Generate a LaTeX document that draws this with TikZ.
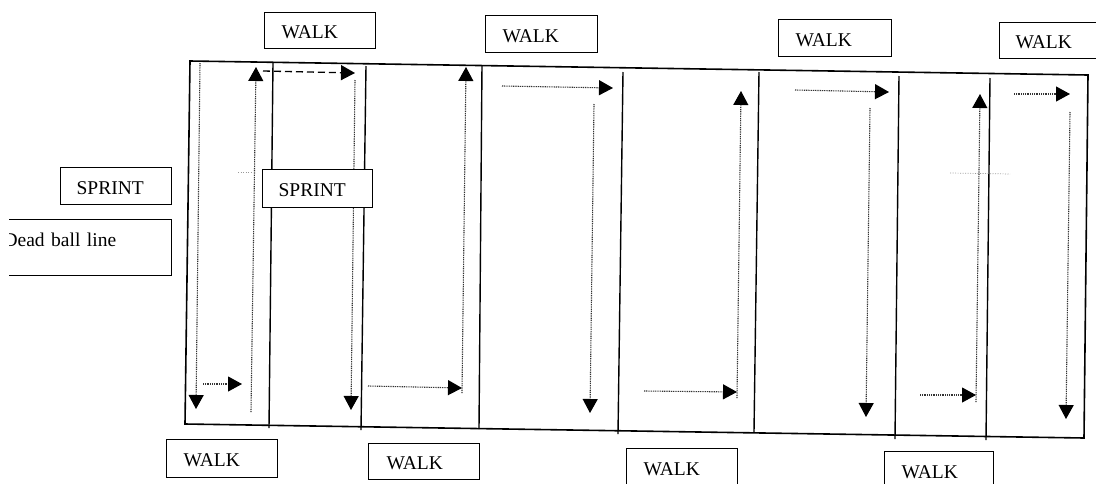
\documentclass[tikz,border=0pt]{standalone}
\usepackage{fontspec}
\setmainfont{Liberation Serif}
\usetikzlibrary{arrows.meta}
\newcommand{\lblfont}{\fontsize{19.5}{23}\selectfont}
\tikzset{
  lbl/.style={draw, fill=white, line width=1.2pt, anchor=north west, align=left,
    inner xsep=17pt, inner ysep=0pt, text height=16pt, text depth=0pt, font=\lblfont},
  edge/.style={line width=1.6pt, line join=miter},
  divider/.style={line width=1.4pt},
  run/.style={line width=1.1pt, black!80, dash pattern=on 1pt off 0.8pt,
    -{Triangle[length=14pt,width=15pt,color=black]}},
  jog/.style={line width=1.3pt, dash pattern=on 7pt off 4pt,
    -{Triangle[length=14pt,width=15pt]}},
  faint/.style={line width=0.7pt, black!40, dash pattern=on 1pt off 1.5pt}
}
\begin{document}
\begin{tikzpicture}[x=1pt, y=-1pt]
\useasboundingbox (0,0) rectangle (1096,483);
\clip (9,0) rectangle (1096,483);

% field outline
\coordinate (tl) at (190,61);
\coordinate (tr) at (1088,75);
\coordinate (br) at (1084,438);
\coordinate (bl) at (185,424);
\draw[edge] (tl) -- (tr) -- (br) -- (bl) -- cycle;

% lane dividers
\draw[divider] (273,63) -- (269,428);
\draw[divider] (366,66) -- (361,430);
\draw[divider] (482,65) -- (479,429);
\draw[divider] (623,72) -- (618,434);
\draw[divider] (759,72) -- (754,432);
\draw[divider] (899,76) -- (895,439);
\draw[divider] (990,78) -- (986,440);

% faint marks across the field
\draw[faint] (238,172) -- (251,172);
\draw[faint] (950,173) -- (1010,174);

% runs, lane by lane
\draw[run] (200,63) -- (196,409);
\draw[run] (203,384) -- (242,384);
\draw[run] (251,412) -- (256,67);
\draw[jog] (263,71) -- (355,73);

\draw[run] (355,80) -- (351,410);

\draw[run] (368,386) -- (462,388);
\draw[run] (462,393) -- (466,67);

\draw[run] (502,86) -- (613,88);
\draw[run] (594,104) -- (590,413);

\draw[run] (644,391) -- (737,392);
\draw[run] (737,398) -- (741,91);

\draw[run] (795,90) -- (889,92);
\draw[run] (870,108) -- (866,417);

\draw[run] (920,395) -- (976,395);
\draw[run] (976,402) -- (980,94);

\draw[run] (1014,94) -- (1070,94);
\draw[run] (1070,112) -- (1066,419);

% labels
\node[lbl, text width=77pt, minimum height=36pt] (walkT1) at (264,12) {WALK};
\node[lbl, text width=78pt, minimum height=37pt] (walkT2) at (485,15) {WALK};
\node[lbl, text width=79pt, minimum height=37pt] (walkT3) at (778,19) {WALK};
\node[lbl, inner xsep=16pt, text width=80pt, minimum height=36pt] (walkT4) at (999,22) {WALK};

\node[lbl, inner xsep=16pt, text width=79pt, minimum height=37pt] (sprintL) at (60,167) {SPRINT};
\node[lbl, inner xsep=16pt, text width=78pt, minimum height=38pt] (sprintF) at (262,169) {SPRINT};
\node[lbl, inner xsep=16pt, inner ysep=14pt, text width=152pt, text height=13pt, text depth=15pt] (dead) at (-13,219) {Dead ball line};

\node[lbl, text width=77pt, minimum height=38pt] (walkB1) at (166,439) {WALK};
\node[lbl, inner xsep=18pt, text width=75pt, minimum height=36pt] (walkB2) at (368,443) {WALK};
\node[lbl, text width=77pt, minimum height=38pt] (walkB3) at (626,448) {WALK};
\node[lbl, text width=75pt, minimum height=38pt] (walkB4) at (884,451) {WALK};
\end{tikzpicture}
\end{document}
